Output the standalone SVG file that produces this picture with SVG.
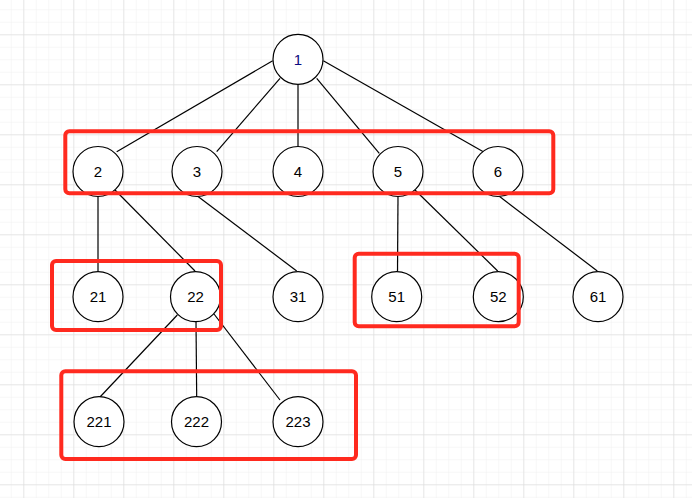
<svg xmlns="http://www.w3.org/2000/svg" width="692" height="498" viewBox="0 0 692 498">
<defs>
<pattern id="minor" x="23.3" y="34.3" width="12.5" height="12.5" patternUnits="userSpaceOnUse">
<path d="M0 0H12.5M0 0V12.5" fill="none" stroke="#efefef" stroke-width="1"/>
</pattern>
<pattern id="major" x="23.3" y="34.3" width="50" height="50" patternUnits="userSpaceOnUse">
<path d="M0 0H50M0 0V50" fill="none" stroke="#d8d8d8" stroke-width="1"/>
</pattern>
</defs>
<style>
.n circle{fill:#fff;stroke:#000;stroke-width:1.2}
.n text{font-family:"Liberation Sans",Arial,sans-serif;font-size:15px;fill:#000;text-anchor:middle}
#edges line{stroke:#000;stroke-width:1.2}
.box{fill:none;stroke:#ff2a1f;stroke-width:4}
</style>
<rect width="692" height="498" fill="#fff"/>
<rect width="692" height="498" fill="url(#minor)"/>
<rect width="692" height="498" fill="url(#major)"/>
<g id="edges">
<line x1="272.7" y1="60.7" x2="116.7" y2="151.7"/>
<line x1="280" y1="78.3" x2="216.7" y2="151.7"/>
<line x1="298" y1="84.3" x2="298" y2="146.5"/>
<line x1="316.7" y1="78.3" x2="379.3" y2="153.3"/>
<line x1="323.3" y1="60.7" x2="483.3" y2="151.7"/>
<line x1="98" y1="196" x2="98" y2="271.5"/>
<line x1="115" y1="190" x2="195" y2="271"/>
<line x1="196.7" y1="195.5" x2="296.7" y2="271"/>
<line x1="398" y1="196" x2="397.5" y2="271.5"/>
<line x1="415" y1="190" x2="497.7" y2="271"/>
<line x1="498.3" y1="195.5" x2="597.3" y2="271"/>
<line x1="177.3" y1="315" x2="100" y2="397"/>
<line x1="196" y1="321.5" x2="196.7" y2="396.7"/>
<line x1="214" y1="314" x2="280" y2="400"/>
</g>
<g id="n1" class="n"><circle cx="298" cy="59.3" r="25"/><text x="298" y="64.5" style="fill:#0c0c80">1</text></g>
<g id="n2" class="n"><circle cx="98" cy="171.5" r="25"/><text x="98" y="177">2</text></g>
<g id="n3" class="n"><circle cx="197" cy="171.5" r="25"/><text x="197" y="177">3</text></g>
<g id="n4" class="n"><circle cx="298" cy="171.5" r="25"/><text x="298" y="177">4</text></g>
<g id="n5" class="n"><circle cx="398" cy="171.5" r="25"/><text x="398" y="177">5</text></g>
<g id="n6" class="n"><circle cx="498" cy="171.5" r="25"/><text x="498" y="177">6</text></g>
<g id="n21" class="n"><circle cx="98" cy="296.7" r="25"/><text x="98" y="302">21</text></g>
<g id="n22" class="n"><circle cx="195.5" cy="296.7" r="25"/><text x="195.5" y="302">22</text></g>
<g id="n31" class="n"><circle cx="298" cy="296.7" r="25"/><text x="298" y="302">31</text></g>
<g id="n51" class="n"><circle cx="396.7" cy="296.7" r="25"/><text x="396.7" y="302">51</text></g>
<g id="n52" class="n"><circle cx="498.3" cy="296.7" r="25"/><text x="498.3" y="302">52</text></g>
<g id="n61" class="n"><circle cx="598" cy="296.7" r="25"/><text x="598" y="302">61</text></g>
<g id="n221" class="n"><circle cx="99" cy="421.7" r="25"/><text x="99" y="427">221</text></g>
<g id="n222" class="n"><circle cx="196.5" cy="421.7" r="25"/><text x="196.5" y="427">222</text></g>
<g id="n223" class="n"><circle cx="298" cy="421.7" r="25"/><text x="298" y="427">223</text></g>
<g id="groups">
<rect class="box" x="65.3" y="131.3" width="488" height="62" rx="4"/>
<rect class="box" x="52" y="261" width="169" height="69" rx="4"/>
<rect class="box" x="61.3" y="371.3" width="294.7" height="87.7" rx="4"/>
<rect class="box" x="354.7" y="253.7" width="164" height="72.6" rx="4"/>
</g>
</svg>
